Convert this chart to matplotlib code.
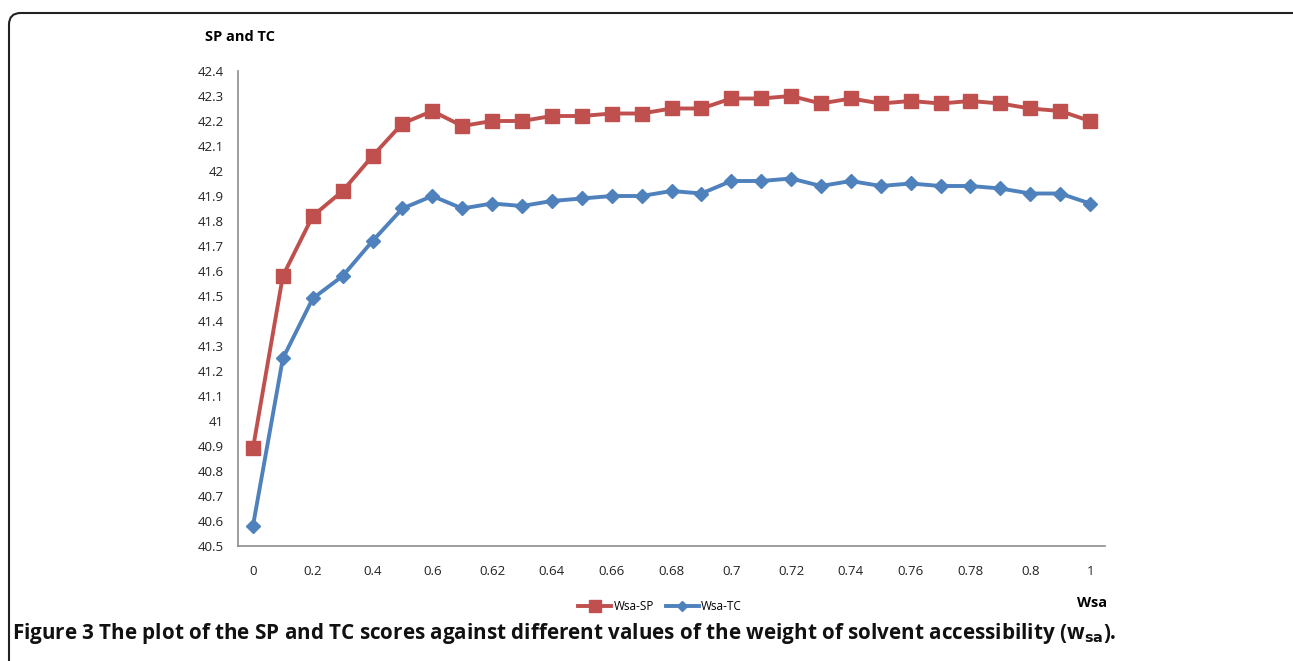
import matplotlib
matplotlib.use("Agg")
import matplotlib.pyplot as plt
from matplotlib.patches import FancyBboxPatch

# Data
wsa = ["0", "0.1", "0.2", "0.3", "0.4", "0.5", "0.6", "0.61", "0.62", "0.63",
       "0.64", "0.65", "0.66", "0.67", "0.68", "0.69", "0.7", "0.71", "0.72",
       "0.73", "0.74", "0.75", "0.76", "0.77", "0.78", "0.79", "0.8", "0.9", "1"]
sp = [40.89, 41.58, 41.82, 41.92, 42.06, 42.19, 42.24, 42.18, 42.20, 42.20,
      42.22, 42.22, 42.23, 42.23, 42.25, 42.25, 42.29, 42.29, 42.30, 42.27,
      42.29, 42.27, 42.28, 42.27, 42.28, 42.27, 42.25, 42.24, 42.20]
tc = [40.58, 41.25, 41.49, 41.58, 41.72, 41.85, 41.90, 41.85, 41.87, 41.86,
      41.88, 41.89, 41.90, 41.90, 41.92, 41.91, 41.96, 41.96, 41.97, 41.94,
      41.96, 41.94, 41.95, 41.94, 41.94, 41.93, 41.91, 41.91, 41.87]
y_ticks = [40.5, 40.6, 40.7, 40.8, 40.9, 41, 41.1, 41.2, 41.3, 41.4, 41.5,
           41.6, 41.7, 41.8, 41.9, 42, 42.1, 42.2, 42.3, 42.4]

plt.rcParams["font.family"] = ["Open Sans", "DejaVu Sans"]
plt.rcParams["mathtext.fontset"] = "dejavusans"

fig = plt.figure(figsize=(12.93, 6.61), dpi=100)
ax = fig.add_axes([238 / 1293, 115 / 661, 867 / 1293, 475 / 661])

x = list(range(len(wsa)))
ax.plot(x, sp, color="#C0504D", lw=2.8, marker="s", ms=10, label="Wsa-SP")
ax.plot(x, tc, color="#4F81BD", lw=2.8, marker="D", ms=7, label="Wsa-TC")

# Axes styling, Excel-like
ax.set_xlim(-0.5, len(wsa) - 0.5)
ax.set_ylim(40.5, 42.4)
ax.set_yticks(y_ticks)
ax.set_yticklabels([f"{v:g}" for v in y_ticks], fontsize=9.5, color="#222222")
ax.set_xticks(x[::2])
ax.set_xticklabels(wsa[::2], fontsize=9.5, color="#222222")
ax.tick_params(length=0, pad=10)
ax.tick_params(axis="x", pad=14)
for s in ["top", "right"]:
    ax.spines[s].set_visible(False)
for s in ["left", "bottom"]:
    ax.spines[s].set_color("#8c8c8c")
    ax.spines[s].set_linewidth(1.2)

fig.text(205 / 1293, 1 - 37 / 661, "SP and TC", fontsize=10.5, fontweight="bold",
         va="center", ha="left")
fig.text(1107 / 1293, 1 - 603 / 661, "Wsa", fontsize=10.5, fontweight="bold",
         va="center", ha="right")

ax.legend(loc="center", bbox_to_anchor=(660 / 1293, 1 - 607 / 661),
          bbox_transform=fig.transFigure, ncol=2, frameon=False, fontsize=8.5,
          handlelength=2.8, columnspacing=1.0, handletextpad=0.2, markerscale=0.8)

# Caption and rounded border
fig.text(12 / 1293, 1 - 633 / 661,
         r"Figure 3 The plot of the SP and TC scores against different values of the weight of solvent accessibility (w$_{\mathbf{sa}}$).",
         fontsize=14.9, fontweight="bold", va="center", ha="left", color="#111111")
box = FancyBboxPatch((9 / 1293, -0.2), 1.2, 1 - 13 / 661 + 0.2,
                     boxstyle="round,pad=0,rounding_size=0.009",
                     mutation_aspect=1293 / 661,
                     transform=fig.transFigure, fill=False, ec="#222222", lw=1.5)
fig.add_artist(box)

fig.savefig("out.png", dpi=100)
